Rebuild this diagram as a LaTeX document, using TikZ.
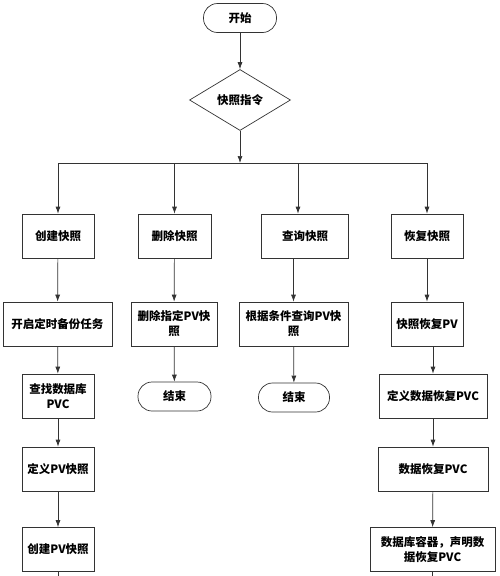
\documentclass[tikz,border=0pt]{standalone}
\usepackage{fontspec}
\newfontfamily\cjk{Noto Sans CJK SC}
\usetikzlibrary{arrows.meta,shapes.geometric}

\begin{document}
\begin{tikzpicture}[x=1pt,y=-1pt,
  font=\cjk\bfseries\fontsize{11.5}{15}\selectfont,
  every node/.style={draw=black!80, line width=0.7pt, inner sep=0pt, align=center},
  box/.style={rectangle, minimum height=44pt},
  term/.style={rectangle, rounded corners=14pt, minimum height=29pt},
  flow/.style={draw=black!80, line width=0.7pt, -{Latex[length=7pt,width=5pt]}},
  line/.style={draw=black!80, line width=0.7pt}]
\useasboundingbox (0,0) rectangle (500,576);

\node[term, minimum width=73pt] (start) at (240,18) {开始};
\node[diamond, minimum width=101pt, minimum height=61pt] (cmd) at (240,100) {快照指令};
\coordinate (branch) at (240,163);
\coordinate (qtop) at (298,163);

% first row
\node[box, minimum width=72pt] (create) at (58,236) {创建快照};
\node[box, minimum width=73pt] (delete) at (174.5,236) {删除快照};
\node[box, minimum width=87pt] (query) at (305,236) {查询快照};
\node[box, minimum width=72pt] (restore) at (427,236) {恢复快照};

% create branch
\node[box, minimum width=109pt] (backup) at (57.5,324) {开启定时备份任务};
\node[box, minimum width=72pt] (findpvc) at (58,396) {查找数据库\\PVC};
\node[box, minimum width=72pt] (defsnap) at (58,469) {定义PV快照};
\node[box, minimum width=72pt] (mksnap) at (58,549.5) {创建PV快照};
\coordinate (leftend) at (58,576);

% delete branch
\node[box, minimum width=86pt] (delpv) at (174,324) {删除指定PV快\\照};
\node[term, minimum width=73pt] (end1) at (174.5,396.5) {结束};

% query branch
\node[box, minimum width=109pt] (findpv) at (293.5,324) {根据条件查询PV快\\照};
\node[term, minimum width=71pt] (end2) at (294,397.5) {结束};

% restore branch
\node[box, minimum width=72pt] (snappv) at (427,324) {快照恢复PV};
\node[box, minimum width=108pt] (defpvc) at (433,396) {定义数据恢复PVC};
\node[box, minimum width=110pt] (datapvc) at (433,469) {数据恢复PVC};
\node[box, minimum width=125pt] (mount) at (432.5,549.5) {数据库容器，声明数\\据恢复PVC};
\coordinate (rightend) at (432.5,576);

\draw[flow] (start) -- (cmd);
\draw[flow] (cmd) -- (branch);
\draw[line] (branch -| create.north) -- (branch -| restore.north);
\draw[flow] (branch -| create.north) -- (create);
\draw[flow] (branch -| delete.north) -- (delete);
\draw[flow] (qtop) -- (qtop |- query.north);
\draw[flow] (branch -| restore.north) -- (restore);

\draw[flow] (create) -- (backup);
\draw[flow] (backup) -- (findpvc);
\draw[flow] (findpvc) -- (defsnap);
\draw[flow] (defsnap) -- (mksnap);
\draw[line] (mksnap) -- (leftend);

\draw[flow] (delete) -- (delpv);
\draw[flow] (delpv) -- (end1);

\draw[flow] (query.south -| findpv.north) -- (findpv);
\draw[flow] (findpv) -- (end2);

\draw[flow] (restore) -- (snappv);
\draw[flow] (snappv.south -| defpvc.north) -- (defpvc);
\draw[flow] (defpvc) -- (datapvc);
\draw[flow] (datapvc) -- (mount);
\draw[line] (mount) -- (rightend);
\end{tikzpicture}
\end{document}
